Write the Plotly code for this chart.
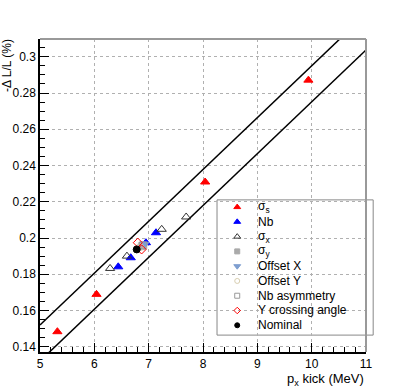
import plotly.graph_objects as go

# data
sig_s_x = [5.32, 6.04, 8.04, 9.94]
sig_s_y = [0.1483, 0.1689, 0.2309, 0.2871]

nb_x = [6.44, 6.67, 6.95, 7.135]
nb_y = [0.1841, 0.1891, 0.1974, 0.2029]

sig_x_x = [6.29, 6.60, 7.24, 7.69]
sig_x_y = [0.1832, 0.1900, 0.2048, 0.2116]

sig_y_x = [6.88]
sig_y_y = [0.1955]

offx_x = [6.92]
offx_y = [0.1965]

offy_x = [6.84]
offy_y = [0.1950]

asym_x = [6.90]
asym_y = [0.1960]

ycross_x = [6.80, 6.87]
ycross_y = [0.1974, 0.1937]

nominal_x = [6.78]
nominal_y = [0.1937]

band_x = [5.0, 11.0]
band_upper = [0.1520, 0.3236]
band_lower = [0.1321, 0.3037]

yticks = [0.14, 0.16, 0.18, 0.20, 0.22, 0.24, 0.26, 0.28, 0.30]
ylabels = ['0.14', '0.16', '0.18', '0.2', '0.22', '0.24', '0.26', '0.28', '0.3']

font = 'Liberation Sans, Arial, sans-serif'

fig = go.Figure()

# the two band lines
for yy in (band_upper, band_lower):
    fig.add_trace(go.Scatter(x=band_x, y=yy, mode='lines',
                             line=dict(color='black', width=1.5),
                             showlegend=False, hoverinfo='skip'))

series = [
    ('σ<sub>s</sub>', sig_s_x, sig_s_y, 'triangle-up', 'red', 8),
    ('Nb', nb_x, nb_y, 'triangle-up', 'blue', 8),
    ('σ<sub>x</sub>', sig_x_x, sig_x_y, 'triangle-up-open', '#333333', 8),
    ('σ<sub>y</sub>', sig_y_x, sig_y_y, 'square', '#aaaaaa', 7),
    ('Offset X', offx_x, offx_y, 'triangle-down', '#7f9fd0', 8),
    ('Offset Y', offy_x, offy_y, 'circle-open', '#d8ceb0', 7),
    ('Nb asymmetry', asym_x, asym_y, 'square-open', '#999999', 7),
    ('Y crossing angle', ycross_x, ycross_y, 'diamond-open', 'red', 7),
    ('Nominal', nominal_x, nominal_y, 'circle', 'black', 7),
]
for name, xs, ys, sym, col, sz in series:
    fig.add_trace(go.Scatter(x=xs, y=ys, mode='markers', name=name,
                             showlegend=False,
                             marker=dict(symbol=sym, color=col, size=sz,
                                         line=dict(color=col, width=1))))

# ROOT-style legend box, built by hand (tighter rows than plotly's legend)
L = dict(x0=0.543, x1=1.022, y0=0.054, y1=0.486)
row_h = 0.0472
fig.add_shape(type='rect', xref='paper', yref='paper', **L,
              line=dict(color='#888888', width=1), fillcolor='white', layer='between')
for i, (name, xs, ys, sym, col, sz) in enumerate(series):
    yy = L['y1'] - 0.023 - i * row_h
    fig.add_trace(go.Scatter(x=[0.605], y=[yy], xaxis='x2', yaxis='y2',
                             mode='markers', showlegend=False, hoverinfo='skip',
                             cliponaxis=False,
                             marker=dict(symbol=sym, color=col, size=sz - 2,
                                         line=dict(color=col, width=1))))
    fig.add_annotation(text=name, xref='paper', yref='paper', x=0.664, y=yy,
                       xanchor='left', yanchor='middle', showarrow=False,
                       font=dict(size=12, color='black', family=font))

axis_common = dict(showline=True, linecolor='black', linewidth=1.5,
                   ticks='inside', ticklen=9, tickcolor='black',
                   showgrid=True, gridcolor='#b0b0b0', griddash='dot',
                   gridwidth=1, zeroline=False, automargin=False,
                   tickfont=dict(size=12, color='black', family=font))

fig.update_xaxes(range=[5, 11], dtick=1, tick0=5,
                 minor=dict(dtick=0.2, ticks='inside', ticklen=5,
                            tickcolor='black', showgrid=False),
                 **axis_common)
fig.update_yaxes(range=[0.1371, 0.3098], tickvals=yticks, ticktext=ylabels,
                 minor=dict(dtick=0.005, tick0=0.14, ticks='inside', ticklen=5,
                            tickcolor='black', showgrid=False),
                 **axis_common)

# gray top/right frame
fig.add_shape(type='line', xref='paper', yref='paper', x0=0, x1=1, y0=1, y1=1,
              line=dict(color='#999999', width=2))
fig.add_shape(type='line', xref='paper', yref='paper', x0=1, x1=1, y0=0, y1=1,
              line=dict(color='#999999', width=2))

fig.add_annotation(text='-Δ L/L (%)', textangle=-90, xref='paper', yref='paper',
                   x=0, y=1.005, xanchor='right', yanchor='top', xshift=-24,
                   showarrow=False, font=dict(size=12, color='black', family=font))
fig.add_annotation(text='p<sub>x</sub> kick (MeV)', xref='paper', yref='paper',
                   x=1, y=0, xanchor='right', yanchor='top', yshift=-17,
                   showarrow=False, font=dict(size=13, color='black', family=font))

fig.update_layout(
    width=407, height=392, autosize=False,
    margin=dict(l=40, r=41, t=39, b=40),
    paper_bgcolor='white', plot_bgcolor='white',
    font=dict(family=font, color='black', size=12),
    showlegend=False,
    xaxis2=dict(overlaying='x', anchor='y2', range=[0, 1], visible=False, fixedrange=True),
    yaxis2=dict(overlaying='y', anchor='x2', range=[0, 1], visible=False, fixedrange=True),
)

fig.write_html("out.html", config={'displayModeBar': False},
               post_script="document.body.style.margin='0px';")
